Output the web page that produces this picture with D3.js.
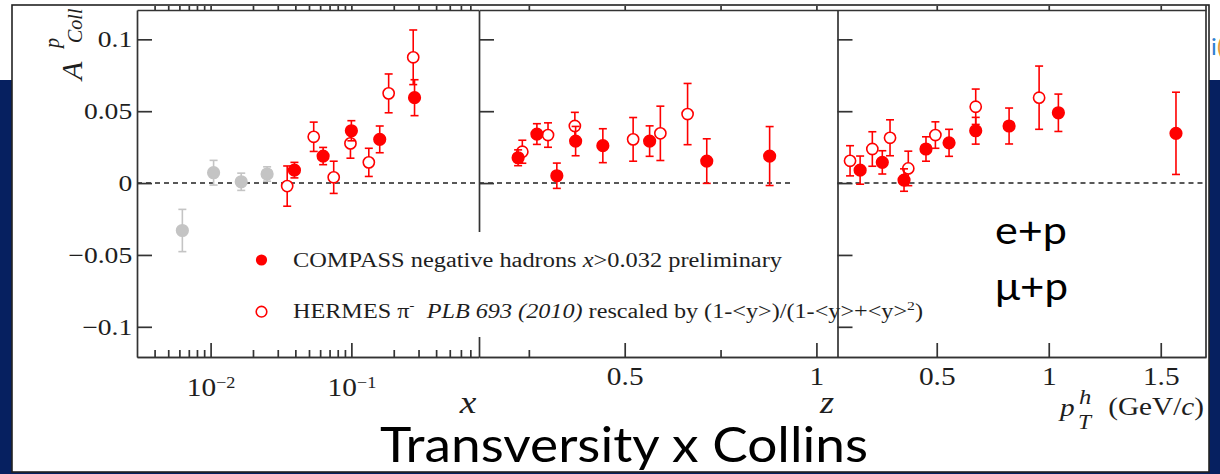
<!DOCTYPE html>
<html>
<head>
<meta charset="utf-8">
<script src="https://cdnjs.cloudflare.com/ajax/libs/d3/7.8.5/d3.min.js"></script>
<style>
  body { margin: 0; background: #fff; }
  .fig text { font-family: "Liberation Serif", "Times New Roman", serif; fill: #1e1e1e; }
  .slide { font-family: Lato, "Open Sans", sans-serif; fill: #000; }
  .axis path, .axis line { stroke: #333; stroke-width: 1.7; fill: none; }
</style>
</head>
<body>
<div id="chartContainer"></div>
<script>
// ---- data ----
var yTickValues = [-0.1, -0.05, 0, 0.05, 0.1];

// panel 1, vs x (log)
var xMajor = [0.01, 0.1];
var xMinor = [0.004, 0.005, 0.006, 0.007, 0.008, 0.009, 0.02, 0.03, 0.04, 0.05, 0.06, 0.07, 0.08, 0.09, 0.2, 0.3, 0.4, 0.5, 0.6, 0.7];
var lowX       = [0.0063, 0.0105, 0.0165, 0.0252];
var lowA       = [-0.033, 0.0072, 0.0009, 0.0063];
var lowErr     = [0.0147, 0.0086, 0.006, 0.005];
var compassX   = [0.0394, 0.063, 0.100, 0.159, 0.281];
var compassXA  = [0.009, 0.0188, 0.0364, 0.0304, 0.0594];
var compassXE  = [0.0054, 0.006, 0.007, 0.0093, 0.0125];
var hermesX    = [0.035, 0.054, 0.0749, 0.0985, 0.133, 0.184, 0.275];
var hermesXA   = [-0.0021, 0.0322, 0.004, 0.0276, 0.0144, 0.0624, 0.0875];
var hermesXE   = [0.014, 0.0102, 0.0112, 0.0103, 0.0098, 0.0135, 0.019];

// panel 2, vs z
var zMajor = [0.5, 1];
var zMinor = [0.25, 0.75];
var compassZ   = [0.222, 0.271, 0.323, 0.372, 0.443, 0.565, 0.714, 0.878];
var compassZA  = [0.0176, 0.0341, 0.0051, 0.0292, 0.026, 0.0292, 0.0153, 0.0188];
var compassZE  = [0.0055, 0.0072, 0.0088, 0.0102, 0.0118, 0.0106, 0.0155, 0.0205];
var hermesZ    = [0.233, 0.300, 0.370, 0.522, 0.593, 0.664];
var hermesZA   = [0.0218, 0.0334, 0.0397, 0.0304, 0.0346, 0.048];
var hermesZE   = [0.008, 0.0085, 0.0095, 0.0152, 0.0189, 0.0213];

// panel 3, vs pT
var ptMajor = [0.5, 1, 1.5];
var compassPt  = [0.158, 0.257, 0.354, 0.452, 0.555, 0.674, 0.823, 1.043, 1.568];
var compassPtA = [0.009, 0.0144, 0.0021, 0.0237, 0.028, 0.0364, 0.0397, 0.0489, 0.0346];
var compassPtE = [0.0098, 0.0081, 0.0078, 0.0085, 0.0094, 0.0093, 0.0125, 0.013, 0.0286];
var hermesPt   = [0.113, 0.2125, 0.2915, 0.373, 0.494, 0.674, 0.957];
var hermesPtA  = [0.0155, 0.0237, 0.0315, 0.0102, 0.0334, 0.0531, 0.0594];
var hermesPtE  = [0.0105, 0.012, 0.0125, 0.012, 0.0092, 0.0123, 0.022];

var legendLabels = ["COMPASS negative  hadrons ", "HERMES \u03c0"];

// ---- layout ----
var plotTop = 10, plotBottom = 357;
var red = "#ff0000", grey = "#c4c4c4";

var svg = d3.select("#chartContainer")
    .append("svg")
    .attr("width", 1220)
    .attr("height", 474);

//slide background
svg.append("rect").attr("width", 1220).attr("height", 474).attr("fill", "#fff");
svg.append("rect").attr("x", 0).attr("y", 80).attr("width", 1220).attr("height", 394).attr("fill", "#062060");
svg.append("text").attr("class", "slide").attr("x", 1211).attr("y", 55)
    .attr("font-size", 24).style("fill", "#2f7fd0").text("i");
svg.append("text").attr("class", "slide").attr("x", 1217).attr("y", 55)
    .attr("font-size", 24).style("fill", "#e59a3c").text("(");

//figure frame
var fig = svg.append("g").attr("class", "fig");
fig.append("rect").attr("x", 12).attr("y", 5).attr("width", 1197).attr("height", 467)
    .attr("fill", "#fff").attr("stroke", "#222").attr("stroke-width", 1.6);

var y = d3.scaleLinear().domain([-0.121, 0.1204]).range([plotBottom, plotTop]);

var x1 = d3.scaleLog().domain([0.003, 0.8]).range([137, 478.5]);
var x2 = d3.scaleLinear().domain([0.12, 1.055]).range([479, 837.5]);
var x3 = d3.scaleLinear().domain([0.057, 1.702]).range([837.5, 1206]);

function zip(xs, as, es) {
    return xs.map(function(d, i) { return {x: d, a: as[i], e: es[i]}; });
}

function drawSeries(g, x, pts, color, open) {
    var s = g.append("g").selectAll("g").data(pts).enter().append("g")
        .attr("stroke", color).attr("stroke-width", 1.6);
    s.append("line")
        .attr("x1", function(d) { return x(d.x); }).attr("x2", function(d) { return x(d.x); })
        .attr("y1", function(d) { return y(d.a - d.e); }).attr("y2", function(d) { return y(d.a + d.e); });
    s.append("line")
        .attr("x1", function(d) { return x(d.x) - 4; }).attr("x2", function(d) { return x(d.x) + 4; })
        .attr("y1", function(d) { return y(d.a + d.e); }).attr("y2", function(d) { return y(d.a + d.e); });
    s.append("line")
        .attr("x1", function(d) { return x(d.x) - 4; }).attr("x2", function(d) { return x(d.x) + 4; })
        .attr("y1", function(d) { return y(d.a - d.e); }).attr("y2", function(d) { return y(d.a - d.e); });
    s.append("circle")
        .attr("cx", function(d) { return x(d.x); })
        .attr("cy", function(d) { return y(d.a); })
        .attr("r", open ? 5.6 : 5.8)
        .attr("fill", open ? "#fff" : color);
}

function zeroLine(g, x, from, to) {
    g.append("line")
        .attr("x1", x(from)).attr("x2", x(to))
        .attr("y1", y(0)).attr("y2", y(0))
        .attr("stroke", "#222").attr("stroke-width", 1.5)
        .attr("stroke-dasharray", "5,4");
}

function frameAxes(g, x, major, minor, showY, pad, fmt) {
    var r = x.range();
    //left
    var ya = g.append("g").attr("class", "axis").attr("transform", "translate(" + r[0] + ",0)")
        .call(d3.axisLeft(y).tickValues(yTickValues).tickSize(-15).tickSizeOuter(0).tickPadding(4)
            .tickFormat(showY ? function(d) { return d === 0 ? "0" : (d < 0 ? "\u2212" + Math.abs(d) : d); } : ""));
    ya.selectAll("text").attr("font-size", 23).attr("transform", "scale(1.2,1)");
    //top
    g.append("g").attr("class", "axis").attr("transform", "translate(0," + plotTop + ")")
        .call(d3.axisTop(x).tickValues(major.concat(minor)).tickSize(4).tickSizeOuter(0).tickFormat(""));
    //bottom
    var xa = g.append("g").attr("class", "axis").attr("transform", "translate(0," + plotBottom + ")")
        .call(d3.axisBottom(x).tickValues(major).tickSize(-14).tickSizeOuter(0).tickPadding(pad).tickFormat(fmt));
    xa.selectAll("text").attr("font-size", 26).attr("transform", "scale(1.13,1)");
    g.append("g").attr("class", "axis").attr("transform", "translate(0," + plotBottom + ")")
        .call(d3.axisBottom(x).tickValues(minor).tickSize(-7).tickSizeOuter(0).tickFormat(""));
    return xa;
}

// panel 1
var p1 = fig.append("g");
zeroLine(p1, x1, 0.003, 0.8);
var xa1 = frameAxes(p1, x1, xMajor, xMinor, true, 21, function() { return "10"; });
xa1.selectAll(".tick text").append("tspan")
    .attr("dy", "-0.5em").attr("font-size", "0.62em")
    .text(function(d) { return "\u2212" + Math.abs(Math.round(Math.log10(d))); });
drawSeries(p1, x1, zip(lowX, lowA, lowErr), grey, false);
drawSeries(p1, x1, zip(hermesX, hermesXA, hermesXE), red, true);
drawSeries(p1, x1, zip(compassX, compassXA, compassXE), red, false);

// panel 2
var p2 = fig.append("g");
zeroLine(p2, x2, 0.12, 0.94);
frameAxes(p2, x2, zMajor, zMinor, false, 10, function(d) { return String(d); });
drawSeries(p2, x2, zip(hermesZ, hermesZA, hermesZE), red, true);
drawSeries(p2, x2, zip(compassZ, compassZA, compassZE), red, false);

//legend box hides part of panel 2 axis
var leg = fig.append("g");
leg.append("rect").attr("x", 236).attr("y", 232).attr("width", 600).attr("height", 105).attr("fill", "#fff");
leg.append("circle").attr("cx", 261.5).attr("cy", 260).attr("r", 5.6).attr("fill", red);
leg.append("circle").attr("cx", 261.5).attr("cy", 311.7).attr("r", 5.3)
    .attr("fill", "#fff").attr("stroke", red).attr("stroke-width", 1.6);
var t1 = leg.append("text").attr("x", 293).attr("y", 266.7).attr("font-size", 20)
    .attr("textLength", 489).attr("lengthAdjust", "spacingAndGlyphs");
t1.append("tspan").text(legendLabels[0]);
t1.append("tspan").style("font-style", "italic").text("x");
t1.append("tspan").text(">0.032 preliminary");
var t2 = leg.append("text").attr("x", 293).attr("y", 318).attr("font-size", 20)
    .attr("textLength", 630).attr("lengthAdjust", "spacingAndGlyphs");
t2.append("tspan").text(legendLabels[1]);
t2.append("tspan").attr("dy", -8).attr("font-size", 13).text("-");
t2.append("tspan").attr("dy", 8).text("\u00a0\u00a0");
t2.append("tspan").style("font-style", "italic").text("PLB 693 (2010)");
t2.append("tspan").text(" rescaled by (1-<y>)/(1-<y>+<y>");
t2.append("tspan").attr("dy", -8).attr("font-size", 13).text("2");
t2.append("tspan").attr("dy", 8).text(")");

// panel 3
var p3 = fig.append("g");
zeroLine(p3, x3, 0.057, 1.69);
frameAxes(p3, x3, ptMajor, [], false, 10, function(d) { return String(d); });
p3.append("line").attr("x1", 1206).attr("x2", 1206).attr("y1", 5).attr("y2", plotBottom)
    .attr("stroke", "#333").attr("stroke-width", 1.7);
drawSeries(p3, x3, zip(hermesPt, hermesPtA, hermesPtE), red, true);
drawSeries(p3, x3, zip(compassPt, compassPtA, compassPtE), red, false);

//axis titles
fig.append("text").attr("transform", "translate(468,413) scale(1.17,1)").attr("text-anchor", "middle")
    .attr("font-size", 32).style("font-style", "italic").text("x");
fig.append("text").attr("transform", "translate(827,413) scale(1.17,1)").attr("text-anchor", "middle")
    .attr("font-size", 31).style("font-style", "italic").text("z");
fig.append("text").attr("transform", "translate(1060,416) scale(1.17,1)")
    .attr("font-size", 25).style("font-style", "italic").text("p");
fig.append("text").attr("transform", "translate(1079,404) scale(1.17,1)")
    .attr("font-size", 21).style("font-style", "italic").text("h");
fig.append("text").attr("transform", "translate(1078,429) scale(1.17,1)")
    .attr("font-size", 20).style("font-style", "italic").text("T");
var gev = fig.append("text").attr("transform", "translate(1204,415) scale(1.17,1)")
    .attr("text-anchor", "end").attr("font-size", 25);
gev.append("tspan").text("(GeV/");
gev.append("tspan").style("font-style", "italic").text("c");
gev.append("tspan").text(")");

var yt = fig.append("g").attr("transform", "translate(82,80) rotate(-90)");
yt.append("text").attr("x", 0).attr("y", 0).attr("font-size", 30).style("font-style", "italic").text("A");
yt.append("text").attr("x", 32).attr("y", -23).attr("font-size", 20).style("font-style", "italic").text("p");
yt.append("text").attr("x", 37).attr("y", 0).attr("font-size", 20).style("font-style", "italic").text("Coll");

//slide text
svg.append("text").attr("class", "slide").attr("x", 995).attr("y", 244).attr("font-size", 38)
    .attr("textLength", 72).attr("lengthAdjust", "spacingAndGlyphs").text("e+p");
svg.append("text").attr("class", "slide").attr("x", 995).attr("y", 300).attr("font-size", 38)
    .attr("textLength", 73).attr("lengthAdjust", "spacingAndGlyphs").text("\u03bc+p");
svg.append("text").attr("class", "slide").attr("x", 380).attr("y", 461.7).attr("font-size", 48)
    .attr("textLength", 488).attr("lengthAdjust", "spacingAndGlyphs").text("Transversity x Collins");
</script>
</body>
</html>
